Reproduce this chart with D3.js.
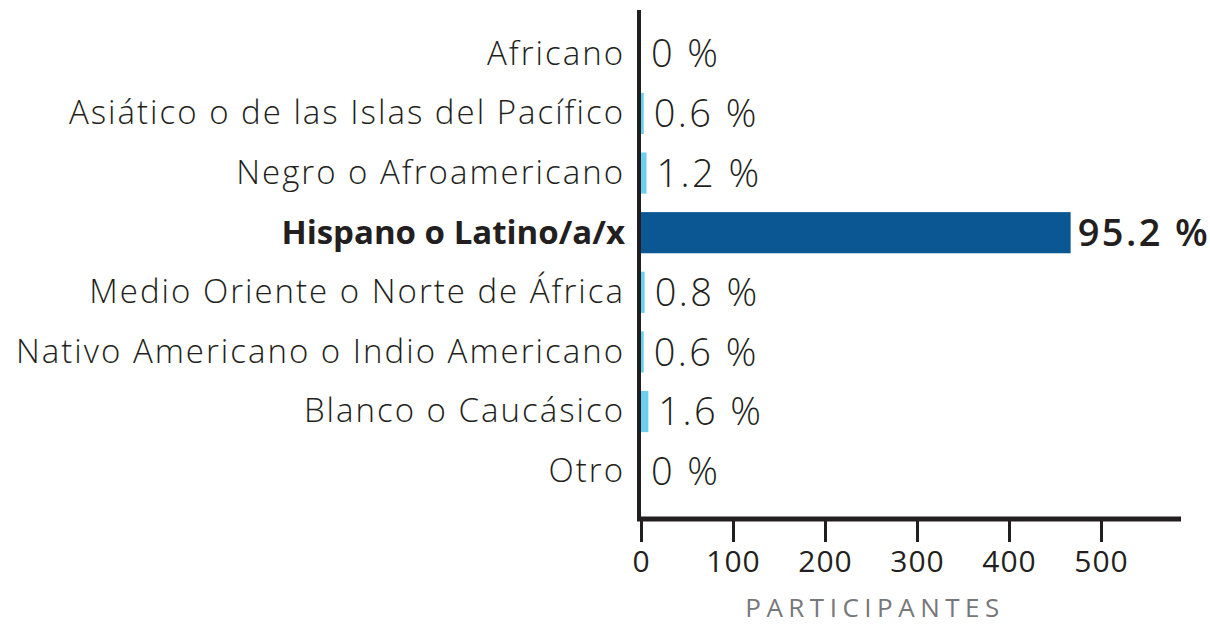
<!DOCTYPE html>
<html>
<head>
<meta charset="utf-8">
<script src="https://cdn.jsdelivr.net/npm/d3@7.9.0/dist/d3.min.js"></script>
<style>
  body { margin: 0; background: #fff; }
  svg text { font-family: "Open Sans", "Noto Sans", sans-serif; fill: #231f20; }
</style>
</head>
<body>
<svg id="chart" width="1210" height="624"></svg>
<script>
// categories, participant counts and the printed percentage labels
const categories = [
  'Africano',
  'Asiático o de las Islas del Pacífico',
  'Negro o Afroamericano',
  'Hispano o Latino/a/x',
  'Medio Oriente o Norte de África',
  'Nativo Americano o Indio Americano',
  'Blanco o Caucásico',
  'Otro'
];
const counts = [0, 3, 6, 467, 4, 3, 8, 0];
const pctLabels = ['0 %', '0.6 %', '1.2 %', '95.2 %', '0.8 %', '0.6 %', '1.6 %', '0 %'];
const highlight = 'Hispano o Latino/a/x';
const xTicks = [0, 100, 200, 300, 400, 500];

const data = categories.map((c, i) => ({ cat: c, n: counts[i], pct: pctLabels[i] }));

const svg = d3.select('#chart');
const x0 = 641;

const x = d3.scaleLinear().domain([0, 500]).range([x0, 1101]);
const y = d3.scaleBand()
  .domain(categories)
  .range([24, 501])
  .paddingInner(0.31)
  .paddingOuter(0.155);

// bars
svg.selectAll('rect.bar')
  .data(data)
  .enter()
  .append('rect')
  .attr('class', 'bar')
  .attr('x', x(0))
  .attr('y', d => y(d.cat))
  .attr('width', d => x(d.n) - x(0))
  .attr('height', y.bandwidth())
  .attr('fill', d => d.cat === highlight ? '#0b5794' : '#6dcff0');

// category labels
svg.selectAll('text.cat')
  .data(data)
  .enter()
  .append('text')
  .attr('class', 'cat')
  .attr('x', 625)
  .attr('y', d => y(d.cat) + y.bandwidth() / 2)
  .attr('dy', '0.33em')
  .attr('text-anchor', 'end')
  .style('font-size', '33px')
  .style('font-weight', d => d.cat === highlight ? 700 : 300)
  .style('letter-spacing', d => d.cat === highlight ? '0px' : '2px')
  .text(d => d.cat);

// value labels
svg.selectAll('text.val')
  .data(data)
  .enter()
  .append('text')
  .attr('class', 'val')
  .attr('x', d => Math.max(x(d.n), x(0)) + (d.n > 100 ? 7 : 10))
  .attr('y', d => y(d.cat) + y.bandwidth() / 2)
  .attr('dy', '0.36em')
  .style('font-size', '38px')
  .style('font-weight', d => d.cat === highlight ? 600 : 300)
  .style('letter-spacing', '2.4px')
  .text(d => d.pct);

// x axis
const xAxis = d3.axisBottom(x)
  .tickValues(xTicks)
  .tickSize(22)
  .tickPadding(9)
  .tickSizeOuter(0);

const gx = svg.append('g')
  .attr('transform', 'translate(0,520)')
  .call(xAxis);
gx.select('.domain').remove();
gx.selectAll('.tick line').attr('stroke', '#231f20').attr('stroke-width', 3);
gx.selectAll('.tick text')
  .style('font-size', '30px')
  .style('font-weight', 400)
  .style('letter-spacing', '1px')
  .attr('fill', '#231f20');

// axis lines
svg.append('line')
  .attr('x1', 639).attr('x2', 639)
  .attr('y1', 10).attr('y2', 521)
  .attr('stroke', '#231f20').attr('stroke-width', 4);
svg.append('line')
  .attr('x1', 637).attr('x2', 1181)
  .attr('y1', 519).attr('y2', 519)
  .attr('stroke', '#231f20').attr('stroke-width', 5);

// axis title
svg.append('text')
  .attr('x', 875)
  .attr('y', 617)
  .attr('text-anchor', 'middle')
  .style('font-size', '26px')
  .style('letter-spacing', '5.5px')
  .style('fill', '#77787b')
  .text('PARTICIPANTES');
</script>
</body>
</html>
